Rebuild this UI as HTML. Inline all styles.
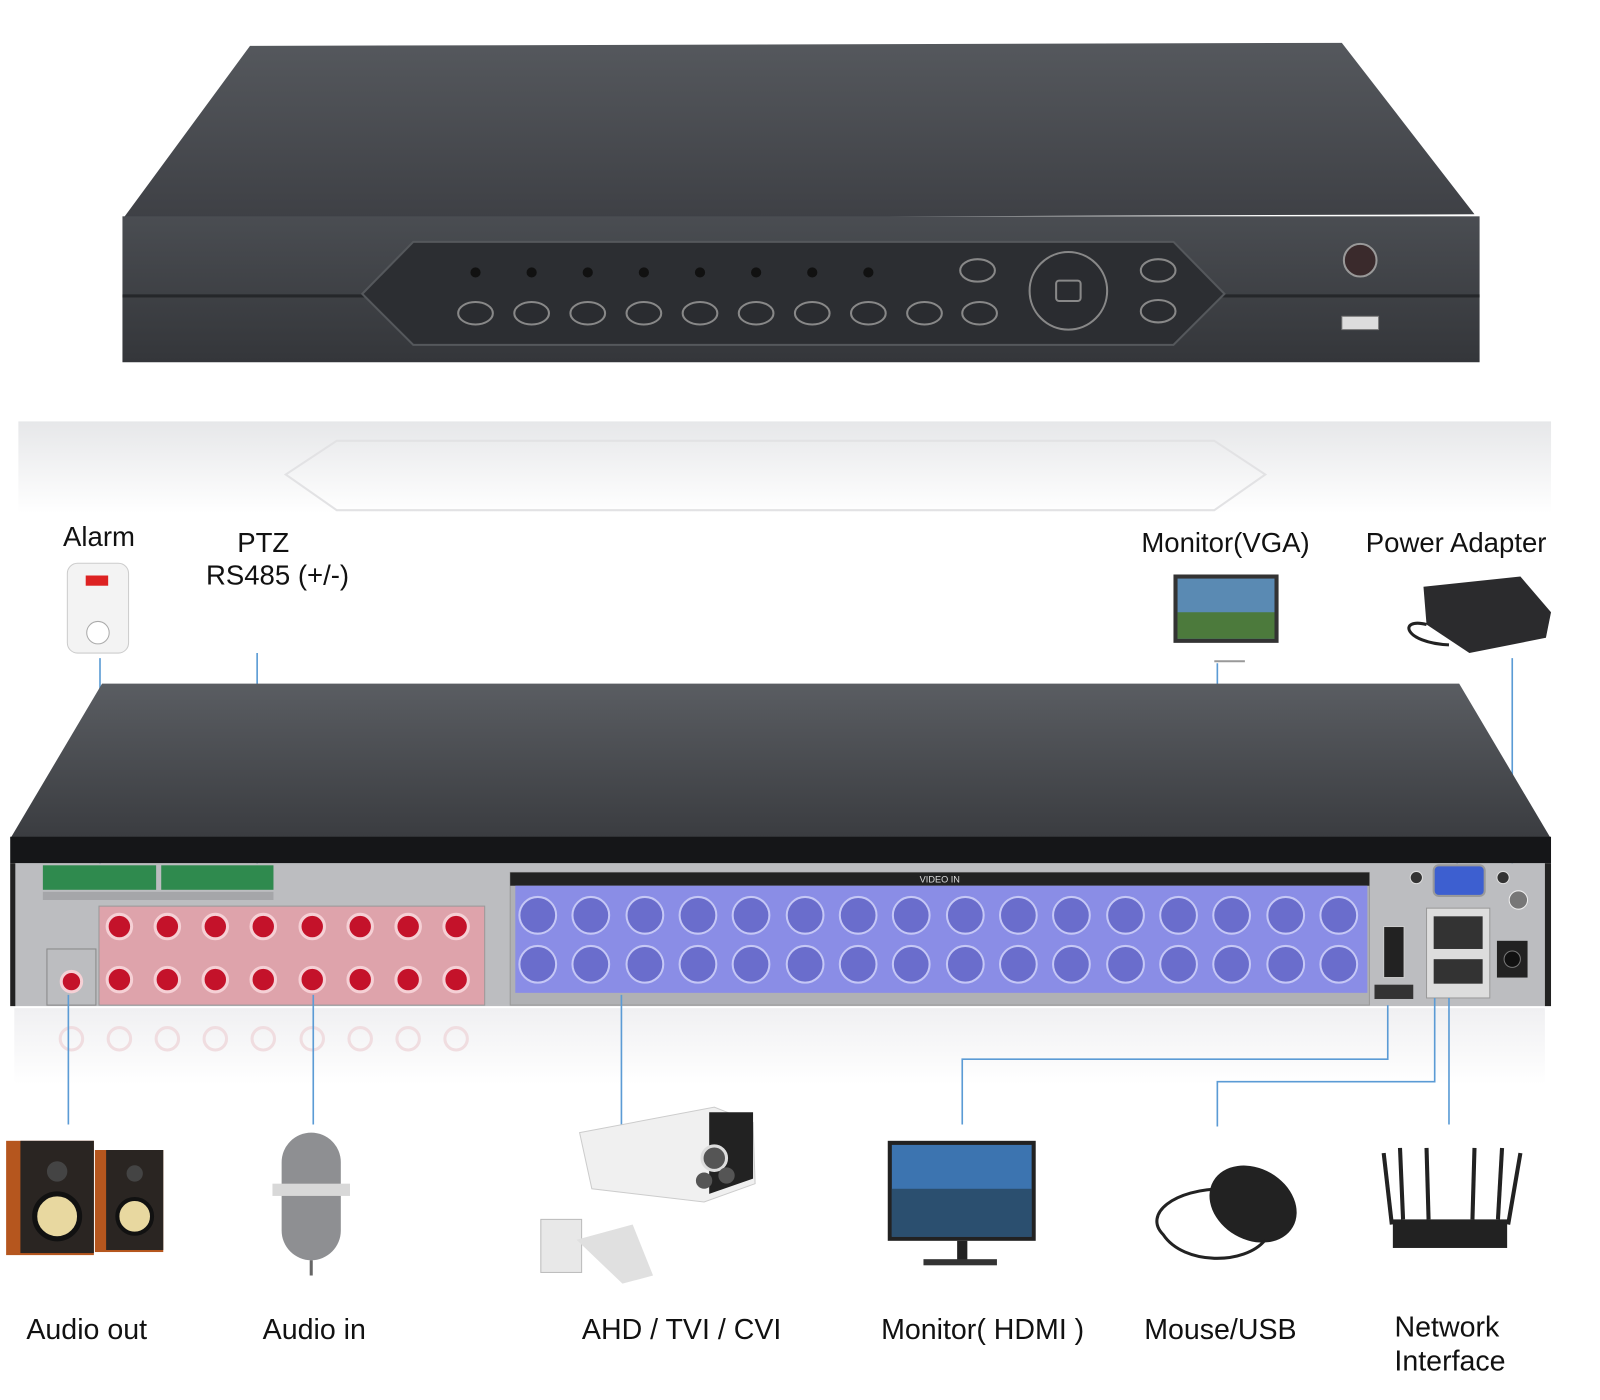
<!DOCTYPE html>
<html><head><meta charset="utf-8"><style>
html,body{margin:0;padding:0;background:#fff;}
svg{display:block;}
text{font-family:"Liberation Sans",Arial,sans-serif;fill:#111;}
</style></head><body>
<svg width="1600" height="1400" viewBox="0 0 1568 1372" preserveAspectRatio="none" xmlns="http://www.w3.org/2000/svg">
<defs>
<linearGradient id="top1" x1="0" y1="0" x2="0" y2="1"><stop offset="0" stop-color="#55585d"/><stop offset="1" stop-color="#3e4045"/></linearGradient>
<linearGradient id="front1" x1="0" y1="0" x2="0" y2="1"><stop offset="0" stop-color="#4a4d52"/><stop offset="1" stop-color="#34363a"/></linearGradient>
<linearGradient id="refl" x1="0" y1="0" x2="0" y2="1"><stop offset="0" stop-color="#e6e7e9"/><stop offset="1" stop-color="#ffffff"/></linearGradient>
<linearGradient id="refl2" x1="0" y1="0" x2="0" y2="1"><stop offset="0" stop-color="#f0f0f2"/><stop offset="1" stop-color="#ffffff"/></linearGradient>
<linearGradient id="top2" x1="0" y1="0" x2="0" y2="1"><stop offset="0" stop-color="#5a5d62"/><stop offset="1" stop-color="#3a3c40"/></linearGradient>
</defs>
<rect width="1568" height="1372" fill="#fff"/>

<!-- Top DVR -->
<polygon points="245,45 1315,42 1445,210 120,215" fill="url(#top1)"/>
<rect x="120" y="212" width="1330" height="143" fill="url(#front1)"/>
<line x1="120" y1="290" x2="1450" y2="290" stroke="#25272a" stroke-width="3"/>
<polygon points="405,237 1150,237 1200,288 1150,338 405,338 355,288" fill="#2c2e32" stroke="#55585c" stroke-width="2"/>
<g fill="#111">
<circle cx="466" cy="267" r="5"/><circle cx="521" cy="267" r="5"/><circle cx="576" cy="267" r="5"/><circle cx="631" cy="267" r="5"/><circle cx="686" cy="267" r="5"/><circle cx="741" cy="267" r="5"/><circle cx="796" cy="267" r="5"/><circle cx="851" cy="267" r="5"/>
</g>
<g fill="#2a2c30" stroke="#888" stroke-width="2">
<ellipse cx="466" cy="307" rx="17" ry="11"/><ellipse cx="521" cy="307" rx="17" ry="11"/><ellipse cx="576" cy="307" rx="17" ry="11"/><ellipse cx="631" cy="307" rx="17" ry="11"/><ellipse cx="686" cy="307" rx="17" ry="11"/><ellipse cx="741" cy="307" rx="17" ry="11"/><ellipse cx="796" cy="307" rx="17" ry="11"/><ellipse cx="851" cy="307" rx="17" ry="11"/><ellipse cx="906" cy="307" rx="17" ry="11"/><ellipse cx="960" cy="307" rx="17" ry="11"/>
<ellipse cx="958" cy="265" rx="17" ry="11"/><ellipse cx="1135" cy="265" rx="17" ry="11"/>
<circle cx="1047" cy="285" r="38"/><rect x="1035" y="275" width="24" height="20" rx="3"/>
<ellipse cx="1135" cy="305" rx="17" ry="11"/>
</g>
<circle cx="1333" cy="255" r="16" fill="#3a2a2c" stroke="#999" stroke-width="2"/>
<rect x="1315" y="310" width="36" height="13" fill="#ddd" stroke="#777"/>

<!-- reflection band -->
<rect x="18" y="413" width="1502" height="90" fill="url(#refl)"/>
<polygon points="330,432 1190,432 1240,465 1190,500 330,500 280,465" fill="none" stroke="#e2e2e4" stroke-width="2"/>

<!-- top labels -->
<text x="97" y="535" font-size="27" text-anchor="middle">Alarm</text>
<text x="258" y="541" font-size="27" text-anchor="middle">PTZ</text>
<text x="272" y="573" font-size="27" text-anchor="middle">RS485 (+/-)</text>
<text x="1201" y="541" font-size="27" text-anchor="middle">Monitor(VGA)</text>
<text x="1427" y="541" font-size="27" text-anchor="middle">Power Adapter</text>

<!-- alarm -->
<rect x="66" y="552" width="60" height="88" rx="10" fill="#f3f3f3" stroke="#ccc"/>
<rect x="84" y="564" width="22" height="10" fill="#d22"/>
<circle cx="96" cy="620" r="11" fill="#fff" stroke="#aaa"/>
<!-- VGA monitor -->
<rect x="1150" y="563" width="103" height="67" fill="#333"/>
<rect x="1154" y="567" width="95" height="59" fill="#5a8ab3"/>
<rect x="1154" y="600" width="95" height="26" fill="#4c7a3c"/>
<line x1="1190" y1="648" x2="1220" y2="648" stroke="#999" stroke-width="2"/>
<!-- power adapter -->
<polygon points="1395,575 1490,565 1520,600 1515,625 1440,640 1398,612" fill="#2b2b2d"/>
<path d="M1398,612 C1370,605 1375,630 1420,632" fill="none" stroke="#222" stroke-width="3"/>

<!-- connector lines top -->
<g stroke="#5b9bd5" stroke-width="1.6" fill="none">
<line x1="98" y1="645" x2="98" y2="850"/>
<line x1="252" y1="640" x2="252" y2="850"/>
<polyline points="1193,650 1193,785 1428,785 1428,848"/>
<line x1="1482" y1="645" x2="1482" y2="872"/>
</g>

<!-- Back DVR -->
<polygon points="100,670 1430,670 1520,822 10,822" fill="url(#top2)"/>
<rect x="10" y="820" width="1510" height="26" fill="#151618"/>
<rect x="14" y="846" width="1500" height="140" fill="#bcbdc0"/>
<rect x="10" y="846" width="5" height="140" fill="#222"/>
<rect x="1514" y="846" width="6" height="140" fill="#222"/>
<!-- terminals -->
<rect x="42" y="848" width="111" height="24" fill="#2f8a4e"/>
<rect x="158" y="848" width="110" height="24" fill="#2f8a4e"/>
<rect x="42" y="874" width="226" height="8" fill="#a5a6a9"/>
<!-- audio -->
<rect x="97" y="888" width="378" height="97" fill="#dea3ab" stroke="#999"/>
<g fill="#c4122a" stroke="#f5d0d5" stroke-width="3">
<circle cx="117" cy="908" r="12"/><circle cx="164" cy="908" r="12"/><circle cx="211" cy="908" r="12"/><circle cx="258" cy="908" r="12"/><circle cx="306" cy="908" r="12"/><circle cx="353" cy="908" r="12"/><circle cx="400" cy="908" r="12"/><circle cx="447" cy="908" r="12"/>
<circle cx="117" cy="960" r="12"/><circle cx="164" cy="960" r="12"/><circle cx="211" cy="960" r="12"/><circle cx="258" cy="960" r="12"/><circle cx="306" cy="960" r="12"/><circle cx="353" cy="960" r="12"/><circle cx="400" cy="960" r="12"/><circle cx="447" cy="960" r="12"/>
<circle cx="70" cy="962" r="10"/>
</g>
<rect x="46" y="930" width="48" height="55" fill="none" stroke="#888"/>
<!-- video -->
<rect x="500" y="855" width="842" height="130" fill="#b0b1b4" stroke="#999"/>
<rect x="500" y="855" width="842" height="13" fill="#222"/>
<text x="921" y="865" font-size="9" text-anchor="middle" style="fill:#ddd">VIDEO  IN</text>
<rect x="505" y="868" width="835" height="105" fill="#8a8de6"/>
<g fill="#6a6dcc" stroke="#c5c7f5" stroke-width="2">
<circle cx="527" cy="897" r="18"/><circle cx="579" cy="897" r="18"/><circle cx="632" cy="897" r="18"/><circle cx="684" cy="897" r="18"/><circle cx="736" cy="897" r="18"/><circle cx="789" cy="897" r="18"/><circle cx="841" cy="897" r="18"/><circle cx="893" cy="897" r="18"/><circle cx="946" cy="897" r="18"/><circle cx="998" cy="897" r="18"/><circle cx="1050" cy="897" r="18"/><circle cx="1103" cy="897" r="18"/><circle cx="1155" cy="897" r="18"/><circle cx="1207" cy="897" r="18"/><circle cx="1260" cy="897" r="18"/><circle cx="1312" cy="897" r="18"/>
<circle cx="527" cy="945" r="18"/><circle cx="579" cy="945" r="18"/><circle cx="632" cy="945" r="18"/><circle cx="684" cy="945" r="18"/><circle cx="736" cy="945" r="18"/><circle cx="789" cy="945" r="18"/><circle cx="841" cy="945" r="18"/><circle cx="893" cy="945" r="18"/><circle cx="946" cy="945" r="18"/><circle cx="998" cy="945" r="18"/><circle cx="1050" cy="945" r="18"/><circle cx="1103" cy="945" r="18"/><circle cx="1155" cy="945" r="18"/><circle cx="1207" cy="945" r="18"/><circle cx="1260" cy="945" r="18"/><circle cx="1312" cy="945" r="18"/>
</g>
<!-- right ports -->
<rect x="1405" y="848" width="50" height="30" rx="5" fill="#3d5fd0" stroke="#999" stroke-width="2"/>
<circle cx="1388" cy="860" r="6" fill="#333" stroke="#ddd"/><circle cx="1473" cy="860" r="6" fill="#333" stroke="#ddd"/>
<circle cx="1488" cy="882" r="9" fill="#777" stroke="#eee"/>
<rect x="1356" y="908" width="20" height="50" fill="#222" stroke="#ccc"/>
<rect x="1347" y="965" width="38" height="14" fill="#333"/>
<rect x="1398" y="890" width="62" height="88" fill="#ddd" stroke="#999"/>
<rect x="1405" y="898" width="48" height="32" fill="#333"/>
<rect x="1405" y="940" width="48" height="24" fill="#333"/>
<rect x="1467" y="922" width="30" height="36" fill="#222"/>
<circle cx="1482" cy="940" r="8" fill="#111" stroke="#777"/>

<!-- reflection of back -->
<rect x="14" y="988" width="1500" height="75" fill="url(#refl2)"/>
<g fill="none" stroke="#f0dde0" stroke-width="3">
<circle cx="70" cy="1018" r="11"/><circle cx="117" cy="1018" r="11"/><circle cx="164" cy="1018" r="11"/><circle cx="211" cy="1018" r="11"/><circle cx="258" cy="1018" r="11"/><circle cx="306" cy="1018" r="11"/><circle cx="353" cy="1018" r="11"/><circle cx="400" cy="1018" r="11"/><circle cx="447" cy="1018" r="11"/>
</g>

<!-- bottom lines -->
<g stroke="#5b9bd5" stroke-width="1.6" fill="none">
<line x1="67" y1="975" x2="67" y2="1102"/>
<line x1="307" y1="975" x2="307" y2="1102"/>
<line x1="609" y1="975" x2="609" y2="1102"/>
<polyline points="1360,985 1360,1038 943,1038 943,1102"/>
<polyline points="1406,978 1406,1060 1193,1060 1193,1104"/>
<line x1="1420" y1="978" x2="1420" y2="1102"/>
</g>

<!-- speakers -->
<rect x="6" y="1118" width="86" height="112" fill="#b5561e"/>
<rect x="20" y="1118" width="72" height="110" fill="#2a2522"/>
<circle cx="56" cy="1192" r="22" fill="#e8d8a0" stroke="#111" stroke-width="5"/>
<circle cx="56" cy="1148" r="10" fill="#444"/>
<rect x="93" y="1127" width="67" height="100" fill="#b5561e"/>
<rect x="104" y="1127" width="56" height="98" fill="#2a2522"/>
<circle cx="132" cy="1192" r="17" fill="#e8d8a0" stroke="#111" stroke-width="4"/>
<circle cx="132" cy="1150" r="8" fill="#444"/>
<!-- mic -->
<rect x="276" y="1110" width="58" height="125" rx="29" fill="#8e8f92"/>
<rect x="267" y="1160" width="76" height="12" fill="#d8d8d8"/>
<line x1="305" y1="1235" x2="305" y2="1250" stroke="#666" stroke-width="3"/>
<!-- camera -->
<rect x="530" y="1195" width="40" height="52" fill="#e8e8e8" stroke="#bbb"/>
<path d="M565,1215 L620,1200 L640,1250 L610,1258 Z" fill="#e0e0e0"/>
<path d="M568,1110 L700,1085 L738,1100 L740,1160 L690,1178 L580,1165 Z" fill="#f0f0f0" stroke="#ccc"/>
<path d="M695,1090 L738,1090 L738,1155 L695,1170 Z" fill="#222"/>
<circle cx="700" cy="1135" r="12" fill="#555" stroke="#ddd" stroke-width="3"/>
<circle cx="690" cy="1157" r="8" fill="#555"/><circle cx="712" cy="1152" r="8" fill="#555"/>
<!-- monitor hdmi -->
<rect x="870" y="1118" width="145" height="98" fill="#222"/>
<rect x="874" y="1122" width="137" height="90" fill="#3c74b0"/>
<rect x="874" y="1165" width="137" height="47" fill="#2b4f6f"/>
<rect x="938" y="1216" width="10" height="20" fill="#222"/>
<rect x="905" y="1234" width="72" height="6" fill="#333"/>
<!-- mouse -->
<ellipse cx="1228" cy="1180" rx="45" ry="35" fill="#222" transform="rotate(30 1228 1180)"/>
<path d="M1200,1165 C1150,1165 1120,1190 1140,1210 C1160,1240 1220,1240 1240,1215" fill="none" stroke="#222" stroke-width="3"/>
<!-- router -->
<rect x="1365" y="1195" width="112" height="28" fill="#222"/>
<g stroke="#222" stroke-width="4">
<line x1="1356" y1="1130" x2="1364" y2="1200"/><line x1="1372" y1="1125" x2="1375" y2="1195"/><line x1="1398" y1="1125" x2="1400" y2="1195"/>
<line x1="1445" y1="1125" x2="1443" y2="1195"/><line x1="1472" y1="1125" x2="1468" y2="1195"/><line x1="1490" y1="1130" x2="1478" y2="1200"/>
</g>

<!-- bottom labels -->
<text x="85" y="1312" font-size="28" text-anchor="middle">Audio out</text>
<text x="308" y="1312" font-size="28" text-anchor="middle">Audio in</text>
<text x="668" y="1312" font-size="28" text-anchor="middle">AHD / TVI / CVI</text>
<text x="963" y="1312" font-size="28" text-anchor="middle">Monitor( HDMI )</text>
<text x="1196" y="1312" font-size="28" text-anchor="middle">Mouse/USB</text>
<text x="1418" y="1310" font-size="28" text-anchor="middle">Network</text>
<text x="1421" y="1343" font-size="28" text-anchor="middle">Interface</text>
</svg>
</body></html>
